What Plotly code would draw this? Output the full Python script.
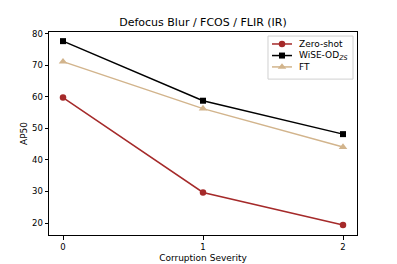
import plotly.graph_objects as go

severity = [0, 1, 2]
zero_shot = [59.8, 29.7, 19.4]
wise_od = [77.7, 58.8, 48.2]
ft = [71.2, 56.3, 44.1]

names = ["Zero-shot", "WiSE-OD<sub><i>ZS</i></sub>", "FT"]
colors = ["#a52a2a", "black", "#d2b48c"]
symbols = ["circle", "square", "triangle-up"]
msizes = [6.5, 6, 7.5]
series = [zero_shot, wise_od, ft]

fig = go.Figure()
for name, vals, c, s, ms in zip(names, series, colors, symbols, msizes):
    fig.add_trace(go.Scatter(x=severity, y=vals, mode="lines+markers", name=name,
                             line=dict(color=c, width=1.5),
                             marker=dict(symbol=s, size=ms, color=c),
                             showlegend=False))

# compact legend drawn on an overlay axis spanning the plot area (0..1)
leg_rows = [0.941, 0.884, 0.828]
for name, c, s, ms, yy in zip(names, colors, symbols, msizes, leg_rows):
    fig.add_trace(go.Scatter(x=[0.724, 0.789], y=[yy, yy], mode="lines",
                             line=dict(color=c, width=1.5), xaxis="x2", yaxis="y2",
                             showlegend=False, hoverinfo="skip"))
    fig.add_trace(go.Scatter(x=[0.7565], y=[yy], mode="markers",
                             marker=dict(symbol=s, size=ms, color=c), xaxis="x2", yaxis="y2",
                             showlegend=False, hoverinfo="skip"))
    fig.add_annotation(x=0.81, y=yy, xref="x2", yref="y2", text=name, showarrow=False,
                       xanchor="left", yanchor="middle", borderpad=0,
                       font=dict(size=9, color="black", family="DejaVu Sans"))
fig.add_shape(type="rect", xref="x2", yref="y2", x0=0.711, x1=0.987, y0=0.768, y1=0.98,
              line=dict(color="#d0d0d0", width=1), fillcolor="rgba(255,255,255,0.8)",
              layer="below")

axis_common = dict(showline=True, linecolor="black", linewidth=1, mirror=True,
                   ticks="outside", ticklen=3.5, tickwidth=0.8, tickcolor="black",
                   showgrid=False, zeroline=False, automargin=False,
                   tickfont=dict(size=8.5, color="black"))
fig.update_layout(
    width=397, height=264,
    margin=dict(l=49, r=40, t=32, b=29),
    paper_bgcolor="white", plot_bgcolor="white",
    font=dict(family="DejaVu Sans", color="black", size=8.5),
    title=dict(text="Defocus Blur / FCOS / FLIR (IR)", x=0.5, xanchor="center",
               xref="paper", y=1 - 22 / 264, yref="container", yanchor="middle",
               automargin=False, font=dict(size=11, color="black")),
    showlegend=False,
    xaxis=dict(range=[-0.1, 2.1], tickvals=[0, 1, 2],
               title=dict(text="Corruption Severity", font=dict(size=9), standoff=3),
               **axis_common),
    yaxis=dict(range=[16.2, 80.6], tickvals=[20, 30, 40, 50, 60, 70, 80],
               title=dict(text="AP50", font=dict(size=9), standoff=2),
               **axis_common),
    xaxis2=dict(overlaying="x", range=[0, 1], visible=False, fixedrange=True),
    yaxis2=dict(overlaying="y", range=[0, 1], visible=False, fixedrange=True),
)
fig.write_html("out.html", config={"displayModeBar": False},
               post_script="document.body.style.margin='0';document.body.style.overflow='hidden';")
